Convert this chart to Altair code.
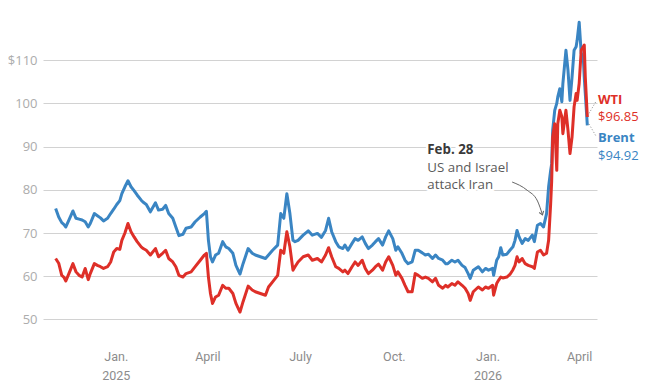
import altair as alt
import pandas as pd

# ---------------- data ----------------
# day offsets from 2025-01-01
days_from_2025 = [
    -59, -56, -53, -51, -49, -46, -42, -39, -36, -33,
    -30, -27, -25, -21, -18, -15, -12, -8, -5, -2,
    1, 4, 6, 9, 12, 15, 18, 21, 25, 27,
    30, 34, 39, 42, 46, 49, 52, 56, 59, 62,
    66, 69, 74, 78, 83, 87, 89, 91, 93, 95,
    98, 101, 105, 108, 111, 115, 118, 122, 125, 130,
    134, 137, 142, 147, 150, 154, 159, 162, 165, 168,
    171, 174, 176, 179, 184, 189, 193, 198, 202, 206,
    209, 212, 216, 219, 223, 225, 228, 232, 235, 238,
    242, 245, 248, 252, 255, 258, 262, 265, 268, 272,
    275, 277, 281, 284, 287, 291, 294, 297, 301, 304,
    307, 311, 314, 317, 321, 324, 326, 330, 333, 336,
    340, 343, 346, 348, 351, 356, 360, 363, 366, 370,
    371, 374, 376, 378, 380, 384, 387, 390, 392, 394,
    396, 399, 402, 405, 409, 411, 414, 417, 420, 423,
    425, 427, 428, 429, 431, 433, 434, 436, 438, 439,
    442, 444, 446, 448, 450, 452, 453, 455, 457, 459,
    460, 461, 463,
]

brent = [
    75.7, 73.7, 72.4, 72.0, 71.4, 73.0, 75.1, 73.4, 73.2, 73.0,
    72.6, 71.4, 72.2, 74.5, 74.0, 73.5, 72.8, 73.4, 74.5, 75.5,
    76.6, 77.5, 79.1, 80.7, 82.1, 80.7, 79.8, 78.8, 77.6, 77.1,
    76.6, 74.9, 77.0, 75.3, 75.5, 76.4, 74.5, 73.4, 71.4, 69.4,
    69.7, 71.1, 71.4, 72.6, 73.7, 74.5, 75.0, 68.3, 64.5, 63.3,
    64.9, 65.3, 68.0, 66.8, 66.4, 65.3, 62.5, 60.5, 62.9, 66.4,
    65.3, 64.9, 64.5, 64.1, 64.9, 66.0, 67.2, 74.5, 73.4, 79.1,
    74.5, 68.3, 68.0, 68.3, 69.5, 70.5, 69.5, 69.9, 69.0, 70.6,
    73.4, 70.3, 68.0, 66.8, 66.4, 67.2, 66.0, 67.6, 68.7, 68.3,
    69.1, 67.6, 66.4, 67.2, 68.0, 68.7, 67.2, 69.1, 70.5, 68.7,
    66.0, 66.8, 65.3, 63.7, 62.9, 63.3, 66.0, 66.0, 65.4, 64.9,
    65.1, 64.1, 64.9, 64.1, 63.7, 62.9, 62.9, 63.7, 63.3, 63.7,
    62.5, 62.0, 60.6, 59.5, 61.4, 62.2, 61.0, 61.8, 61.4, 61.8,
    60.2, 63.7, 64.5, 66.6, 64.9, 65.1, 66.0, 66.8, 68.3, 70.6,
    69.1, 67.6, 68.7, 68.3, 69.5, 68.0, 71.8, 72.2, 71.4, 74.5,
    80.7, 84.5, 86.0, 93.8, 98.4, 100.0, 101.5, 103.4, 100.4, 104.6,
    112.3, 107.7, 100.7, 106.1, 112.3, 113.1, 114.6, 118.8, 111.6, 110.8,
    106.0, 102.3, 94.92,
]

wti = [
    64.1, 63.0, 60.2, 59.8, 58.9, 60.6, 62.9, 61.0, 60.2, 59.8,
    61.8, 59.2, 60.6, 62.9, 62.5, 62.2, 61.8, 62.2, 63.3, 65.6,
    66.4, 66.2, 68.3, 70.0, 72.2, 70.3, 69.1, 68.0, 66.8, 66.4,
    66.0, 64.9, 66.4, 64.5, 65.3, 66.0, 64.1, 63.3, 62.2, 60.2,
    59.8, 60.6, 61.0, 62.2, 63.7, 64.9, 65.3, 59.8, 56.0, 53.7,
    55.2, 55.6, 57.9, 57.2, 57.2, 56.0, 53.7, 51.7, 54.1, 57.7,
    56.8, 56.4, 56.0, 55.6, 57.5, 58.7, 60.2, 66.0, 65.3, 70.3,
    66.8, 61.4, 62.2, 63.3, 64.5, 64.9, 63.7, 64.1, 63.3, 64.9,
    66.6, 64.5, 62.2, 61.8, 61.0, 61.4, 60.6, 62.2, 63.3, 62.5,
    63.7, 61.8, 60.6, 61.4, 62.2, 62.8, 61.4, 63.3, 64.5, 62.5,
    60.2, 61.0, 59.5, 57.9, 56.4, 56.4, 60.6, 60.2, 59.5, 59.8,
    59.5, 58.7, 59.5, 57.9, 57.2, 57.9, 57.5, 58.3, 57.9, 58.7,
    57.9, 57.2, 56.0, 54.4, 56.4, 57.5, 56.8, 57.5, 57.2, 57.9,
    55.6, 58.3, 59.1, 59.8, 59.6, 59.8, 60.4, 61.5, 62.5, 64.5,
    63.3, 64.1, 62.9, 62.5, 62.2, 61.8, 65.6, 66.0, 64.9, 65.3,
    68.3, 76.8, 82.0, 92.2, 95.3, 84.5, 95.3, 98.4, 96.9, 93.0,
    98.4, 93.8, 88.4, 92.2, 99.2, 102.3, 100.7, 104.6, 112.3, 113.1,
    113.5, 106.1, 96.85,
]

y_ticks = [50, 60, 70, 80, 90, 100, 110]

# end labels
end_label_text = ["WTI", "$96.85", "Brent", "$94.92"]
end_label_day = [473.5, 473.5, 473.5, 473.5]
end_label_value = [100.9, 96.8, 92.1, 87.8]
end_label_bold = [True, False, True, False]
end_label_series = ["WTI", "WTI", "Brent", "Brent"]

# dotted leaders from the line ends to the labels
leader_day = [464.7, 464.7]
leader_day2 = [471.6, 471.6]
leader_value = [97.7, 95.2]
leader_value2 = [100.5, 92.4]

# annotation
note_lines = ["Feb. 28", "US and Israel", "attack Iran"]
note_day = [305.9, 305.9, 305.9]
note_value = [89.2, 85.0, 81.1]
note_bold = [True, False, False]

arrow_day = [389.2, 403.9, 414.1, 419.0]
arrow_value = [81.8, 79.9, 77.4, 74.2]

# ---------------- build tables ----------------
BASE = pd.Timestamp("2025-01-01")


def to_dates(days):
    return [BASE + pd.to_timedelta(d, unit="D") for d in days]


dates = to_dates(days_from_2025)
df_brent = pd.DataFrame({"date": dates, "value": brent})
df_wti = pd.DataFrame({"date": dates, "value": wti})

df_labels = pd.DataFrame({
    "date": to_dates(end_label_day),
    "value": end_label_value,
    "text": end_label_text,
    "bold": end_label_bold,
    "series": end_label_series,
})
df_leaders = pd.DataFrame({
    "date": to_dates(leader_day),
    "date2": to_dates(leader_day2),
    "value": leader_value,
    "value2": leader_value2,
})
df_note = pd.DataFrame({
    "date": to_dates(note_day),
    "value": note_value,
    "text": note_lines,
    "bold": note_bold,
})
df_arrow = pd.DataFrame({"date": to_dates(arrow_day), "value": arrow_value})
df_arrow_head = df_arrow.tail(1)

BLUE = "#3a85c3"
RED = "#de2f28"

x_scale = alt.Scale(domain=[
    alt.DateTime(year=2024, month=10, date=21, hours=14),
    alt.DateTime(year=2026, month=4, date=18, hours=12),
])
y_scale = alt.Scale(domain=[45, 120], nice=False, zero=False)

x_axis = alt.Axis(
    values=[
        alt.DateTime(year=2025, month=1, date=1),
        alt.DateTime(year=2025, month=4, date=1),
        alt.DateTime(year=2025, month=7, date=1),
        alt.DateTime(year=2025, month=10, date=1),
        alt.DateTime(year=2026, month=1, date=1),
        alt.DateTime(year=2026, month=4, date=1),
    ],
    labelExpr=(
        "month(datum.value) == 0 ? ['Jan.', '' + year(datum.value)] : "
        "month(datum.value) == 3 ? 'April' : "
        "month(datum.value) == 6 ? 'July' : 'Oct.'"
    ),
    grid=False, domain=False, ticks=False, title=None,
    labelFont="Roboto", labelFontSize=12.5, labelColor="#8c8c8c",
    labelPadding=9, labelLineHeight=19, labelFlush=False,
)
y_axis = alt.Axis(
    values=y_ticks,
    labelExpr="datum.value == 110 ? '$110' : datum.label",
    grid=True, gridColor="#d2d2d2", gridWidth=1,
    domain=False, ticks=False, title=None,
    labelFont="Open Sans", labelFontSize=13, labelColor="#acacac",
    labelPadding=6,
)

X = alt.X("date:T", scale=x_scale, axis=x_axis)
Y = alt.Y("value:Q", scale=y_scale, axis=y_axis)

brent_line = alt.Chart(df_brent).mark_line(
    color=BLUE, strokeWidth=3, strokeJoin="round"
).encode(x=X, y=Y)

wti_line = alt.Chart(df_wti).mark_line(
    color=RED, strokeWidth=3, strokeJoin="round"
).encode(x=X, y=Y)

leaders = alt.Chart(df_leaders).mark_rule(
    color="#8a8a8a", strokeDash=[1, 2], strokeWidth=1
).encode(x=X, x2="date2:T", y=Y, y2="value2:Q")

label_color = alt.Color(
    "series:N", scale=alt.Scale(domain=["Brent", "WTI"], range=[BLUE, RED]), legend=None
)
labels_bold = alt.Chart(df_labels).transform_filter("datum.bold").mark_text(
    align="left", baseline="middle", font="Open Sans", fontSize=13, fontWeight="bold"
).encode(x=X, y=Y, text="text:N", color=label_color)
labels_reg = alt.Chart(df_labels).transform_filter("!datum.bold").mark_text(
    align="left", baseline="middle", font="Open Sans", fontSize=13
).encode(x=X, y=Y, text="text:N", color=label_color)

note_halo = alt.Chart(df_note).mark_text(
    align="left", baseline="middle", font="Open Sans", fontSize=13.3,
    color="white", stroke="white", strokeWidth=5, strokeJoin="round"
).encode(x=X, y=Y, text="text:N")
note_bold_t = alt.Chart(df_note).transform_filter("datum.bold").mark_text(
    align="left", baseline="middle", font="Open Sans", fontSize=13.3,
    fontWeight="bold", color="#3a3a3a"
).encode(x=X, y=Y, text="text:N")
note_reg_t = alt.Chart(df_note).transform_filter("!datum.bold").mark_text(
    align="left", baseline="middle", font="Open Sans", fontSize=13.3, color="#5a5a5a"
).encode(x=X, y=Y, text="text:N")

arrow = alt.Chart(df_arrow).mark_line(
    color="#666666", strokeWidth=1, interpolate="monotone"
).encode(x=X, y=Y)
arrow_head = alt.Chart(df_arrow_head).mark_point(
    shape="M-1,-1.4L0,0L1,-1.4", filled=False, size=22, strokeWidth=1.1,
    color="#666666", angle=340, opacity=1
).encode(x=X, y=Y)

chart = alt.layer(
    note_halo, note_bold_t, note_reg_t, arrow, arrow_head,
    brent_line, wti_line, leaders, labels_bold, labels_reg,
).properties(
    width=554, height=324,
    autosize=alt.AutoSizeParams(type="none"),
    padding={"left": 35, "top": 9, "right": 45, "bottom": 40},
).configure_view(stroke=None)

chart.save("out.html", embed_options={"renderer": "svg", "actions": False})
